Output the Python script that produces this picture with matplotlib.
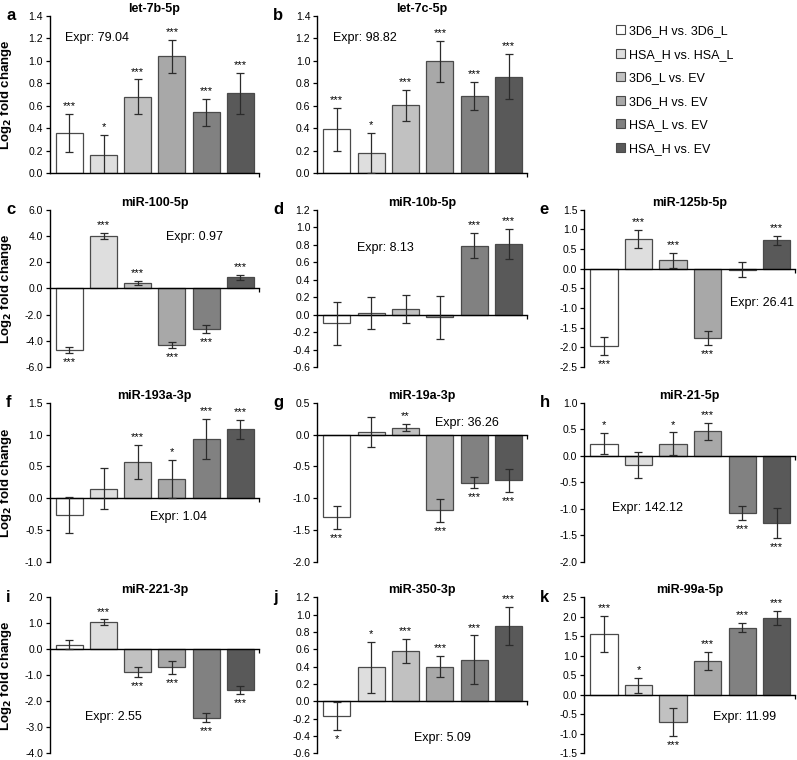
import matplotlib
matplotlib.use('Agg')
import matplotlib.pyplot as plt
import numpy as np
from matplotlib.patches import Patch

plt.rcParams['font.family'] = ['Liberation Sans', 'DejaVu Sans']
plt.rcParams['axes.unicode_minus'] = False

# groups / colors
groups = ['3D6_H vs. 3D6_L', 'HSA_H vs. HSA_L', '3D6_L vs. EV',
          '3D6_H vs. EV', 'HSA_L vs. EV', 'HSA_H vs. EV']
bar_colors = ['#ffffff', '#dedede', '#c1c1c1', '#a8a8a8', '#818181', '#595959']

letters = ['a', 'b', 'c', 'd', 'e', 'f', 'g', 'h', 'i', 'j', 'k']
mirnas = ['let-7b-5p', 'let-7c-5p', 'miR-100-5p', 'miR-10b-5p', 'miR-125b-5p',
          'miR-193a-3p', 'miR-19a-3p', 'miR-21-5p', 'miR-221-3p', 'miR-350-3p',
          'miR-99a-5p']
expr = ['79.04', '98.82', '0.97', '8.13', '26.41', '1.04', '36.26', '142.12',
        '2.55', '5.09', '11.99']

# log2 fold change, error, significance for each miRNA
let7b_val = [0.36, 0.165, 0.68, 1.04, 0.545, 0.71]
let7b_err = [0.17, 0.18, 0.155, 0.15, 0.12, 0.18]
let7b_sig = ['***', '*', '***', '***', '***', '***']

let7c_val = [0.39, 0.18, 0.605, 0.995, 0.685, 0.86]
let7c_err = [0.195, 0.18, 0.14, 0.18, 0.125, 0.2]
let7c_sig = ['***', '*', '***', '***', '***', '***']

mir100_val = [-4.7, 4.0, 0.4, -4.3, -3.1, 0.85]
mir100_err = [0.2, 0.25, 0.15, 0.25, 0.33, 0.2]
mir100_sig = ['***', '***', '***', '***', '***', '***']

mir10b_val = [-0.10, 0.02, 0.06, -0.03, 0.79, 0.81]
mir10b_err = [0.245, 0.18, 0.16, 0.245, 0.145, 0.17]
mir10b_sig = ['', '', '', '', '***', '***']

mir125b_val = [-1.97, 0.75, 0.22, -1.75, -0.03, 0.72]
mir125b_err = [0.23, 0.23, 0.19, 0.18, 0.19, 0.12]
mir125b_sig = ['***', '***', '***', '***', '', '***']

mir193a_val = [-0.27, 0.15, 0.57, 0.30, 0.93, 1.08]
mir193a_err = [0.28, 0.32, 0.27, 0.30, 0.32, 0.155]
mir193a_sig = ['', '', '***', '*', '***', '***']

mir19a_val = [-1.30, 0.04, 0.11, -1.19, -0.76, -0.72]
mir19a_err = [0.18, 0.24, 0.06, 0.18, 0.085, 0.185]
mir19a_sig = ['***', '', '**', '***', '***', '***']

mir21_val = [0.23, -0.17, 0.23, 0.46, -1.08, -1.27]
mir21_err = [0.2, 0.25, 0.21, 0.16, 0.14, 0.29]
mir21_sig = ['*', '', '*', '***', '***', '***']

mir221_val = [0.17, 1.05, -0.88, -0.70, -2.63, -1.58]
mir221_err = [0.17, 0.1, 0.19, 0.25, 0.17, 0.15]
mir221_sig = ['', '***', '***', '***', '***', '***']

mir350_val = [-0.17, 0.39, 0.58, 0.40, 0.48, 0.87]
mir350_err = [0.16, 0.30, 0.14, 0.125, 0.28, 0.22]
mir350_sig = ['*', '*', '***', '***', '***', '***']

mir99a_val = [1.56, 0.24, -0.70, 0.86, 1.72, 1.97]
mir99a_err = [0.47, 0.19, 0.35, 0.23, 0.12, 0.19]
mir99a_sig = ['***', '*', '***', '***', '***', '***']

vals = [let7b_val, let7c_val, mir100_val, mir10b_val, mir125b_val, mir193a_val,
        mir19a_val, mir21_val, mir221_val, mir350_val, mir99a_val]
errs = [let7b_err, let7c_err, mir100_err, mir10b_err, mir125b_err, mir193a_err,
        mir19a_err, mir21_err, mir221_err, mir350_err, mir99a_err]
sigs = [let7b_sig, let7c_sig, mir100_sig, mir10b_sig, mir125b_sig, mir193a_sig,
        mir19a_sig, mir21_sig, mir221_sig, mir350_sig, mir99a_sig]

# y axis range (min, max, step)
yranges = [(0, 1.4, 0.2), (0, 1.4, 0.2), (-6, 6, 2), (-0.6, 1.2, 0.2),
           (-2.5, 1.5, 0.5), (-1, 1.5, 0.5), (-2, 0.5, 0.5), (-2, 1, 0.5),
           (-4, 2, 1), (-0.6, 1.2, 0.2), (-1.5, 2.5, 0.5)]

# layout (figure fractions), panel slot -> axes rect
col_x = [0.0627, 0.398, 0.733]
col_w = [0.262, 0.2635, 0.265]
row_y = [(0.772, 0.979), (0.517, 0.724), (0.261, 0.470), (0.009, 0.214)]
slots = [(0, 0), (0, 1), (1, 0), (1, 1), (1, 2), (2, 0), (2, 1), (2, 2),
         (3, 0), (3, 1), (3, 2)]
# Expr text position in axes coords
expr_pos = [(0.07, 0.86), (0.076, 0.86), (0.555, 0.83), (0.19, 0.76),
            (0.69, 0.41), (0.48, 0.28), (0.56, 0.87), (0.13, 0.34),
            (0.17, 0.23), (0.46, 0.10), (0.61, 0.23)]

fig = plt.figure(figsize=(7.97, 7.60), dpi=100)
x = np.arange(6)

for i in range(11):
    r, c = slots[i]
    ax = fig.add_axes([col_x[c], row_y[r][0], col_w[c], row_y[r][1] - row_y[r][0]])
    ax.bar(x, vals[i], width=0.79, color=bar_colors, edgecolor='#4a4a4a',
           linewidth=0.9, zorder=2)
    ax.errorbar(x, vals[i], yerr=errs[i], fmt='none', ecolor='#2b2b2b',
                elinewidth=0.9, capsize=3, capthick=0.9, zorder=3)

    # significance stars
    for j in range(6):
        if sigs[i][j] == '':
            continue
        v = vals[i][j]
        if v >= 0:
            ax.annotate(sigs[i][j], (x[j], v + errs[i][j]), xytext=(0, 2),
                        textcoords='offset points', ha='center', va='bottom',
                        fontsize=8)
        else:
            ax.annotate(sigs[i][j], (x[j], v - errs[i][j]), xytext=(0, -3),
                        textcoords='offset points', ha='center', va='top',
                        fontsize=8)

    lo, hi, st = yranges[i]
    ax.set_ylim(lo, hi)
    ax.set_yticks(np.arange(lo, hi + st / 2, st))
    ax.yaxis.set_major_formatter(plt.FormatStrFormatter('%.1f'))
    ax.set_xlim(-0.57, 5.54)
    ax.set_xticks([5.54])
    ax.set_xticklabels([])
    ax.tick_params(axis='y', labelsize=7.5, length=3, width=0.9, pad=2)
    ax.tick_params(axis='x', length=3, width=0.9)

    ax.spines['top'].set_visible(False)
    ax.spines['right'].set_visible(False)
    ax.spines['bottom'].set_position(('data', 0))
    ax.spines['left'].set_linewidth(1.0)
    ax.spines['bottom'].set_linewidth(1.0)

    ax.set_title(mirnas[i], fontsize=9, fontweight='bold', pad=3)
    ax.text(expr_pos[i][0], expr_pos[i][1], 'Expr: ' + expr[i],
            transform=ax.transAxes, fontsize=9, va='center', ha='left')
    ax.text(-0.21, 1.0, letters[i], transform=ax.transAxes, fontsize=12,
            fontweight='bold', va='center', ha='left')

    if c == 0:
        ax.set_ylabel('Log$_\\mathbf{2}$ fold change', fontsize=9.5,
                      fontweight='bold')
        ax.yaxis.set_label_coords(-0.17, 0.5)

# legend
handles = [Patch(facecolor=bar_colors[k], edgecolor='#4a4a4a', linewidth=0.8)
           for k in range(6)]
fig.legend(handles, groups, loc='upper left', bbox_to_anchor=(0.773, 0.967),
           frameon=False, fontsize=9, handlelength=0.75, handleheight=0.75,
           handletextpad=0.25, labelspacing=0.92, borderpad=0, borderaxespad=0)

fig.savefig('out.png', dpi=100)
